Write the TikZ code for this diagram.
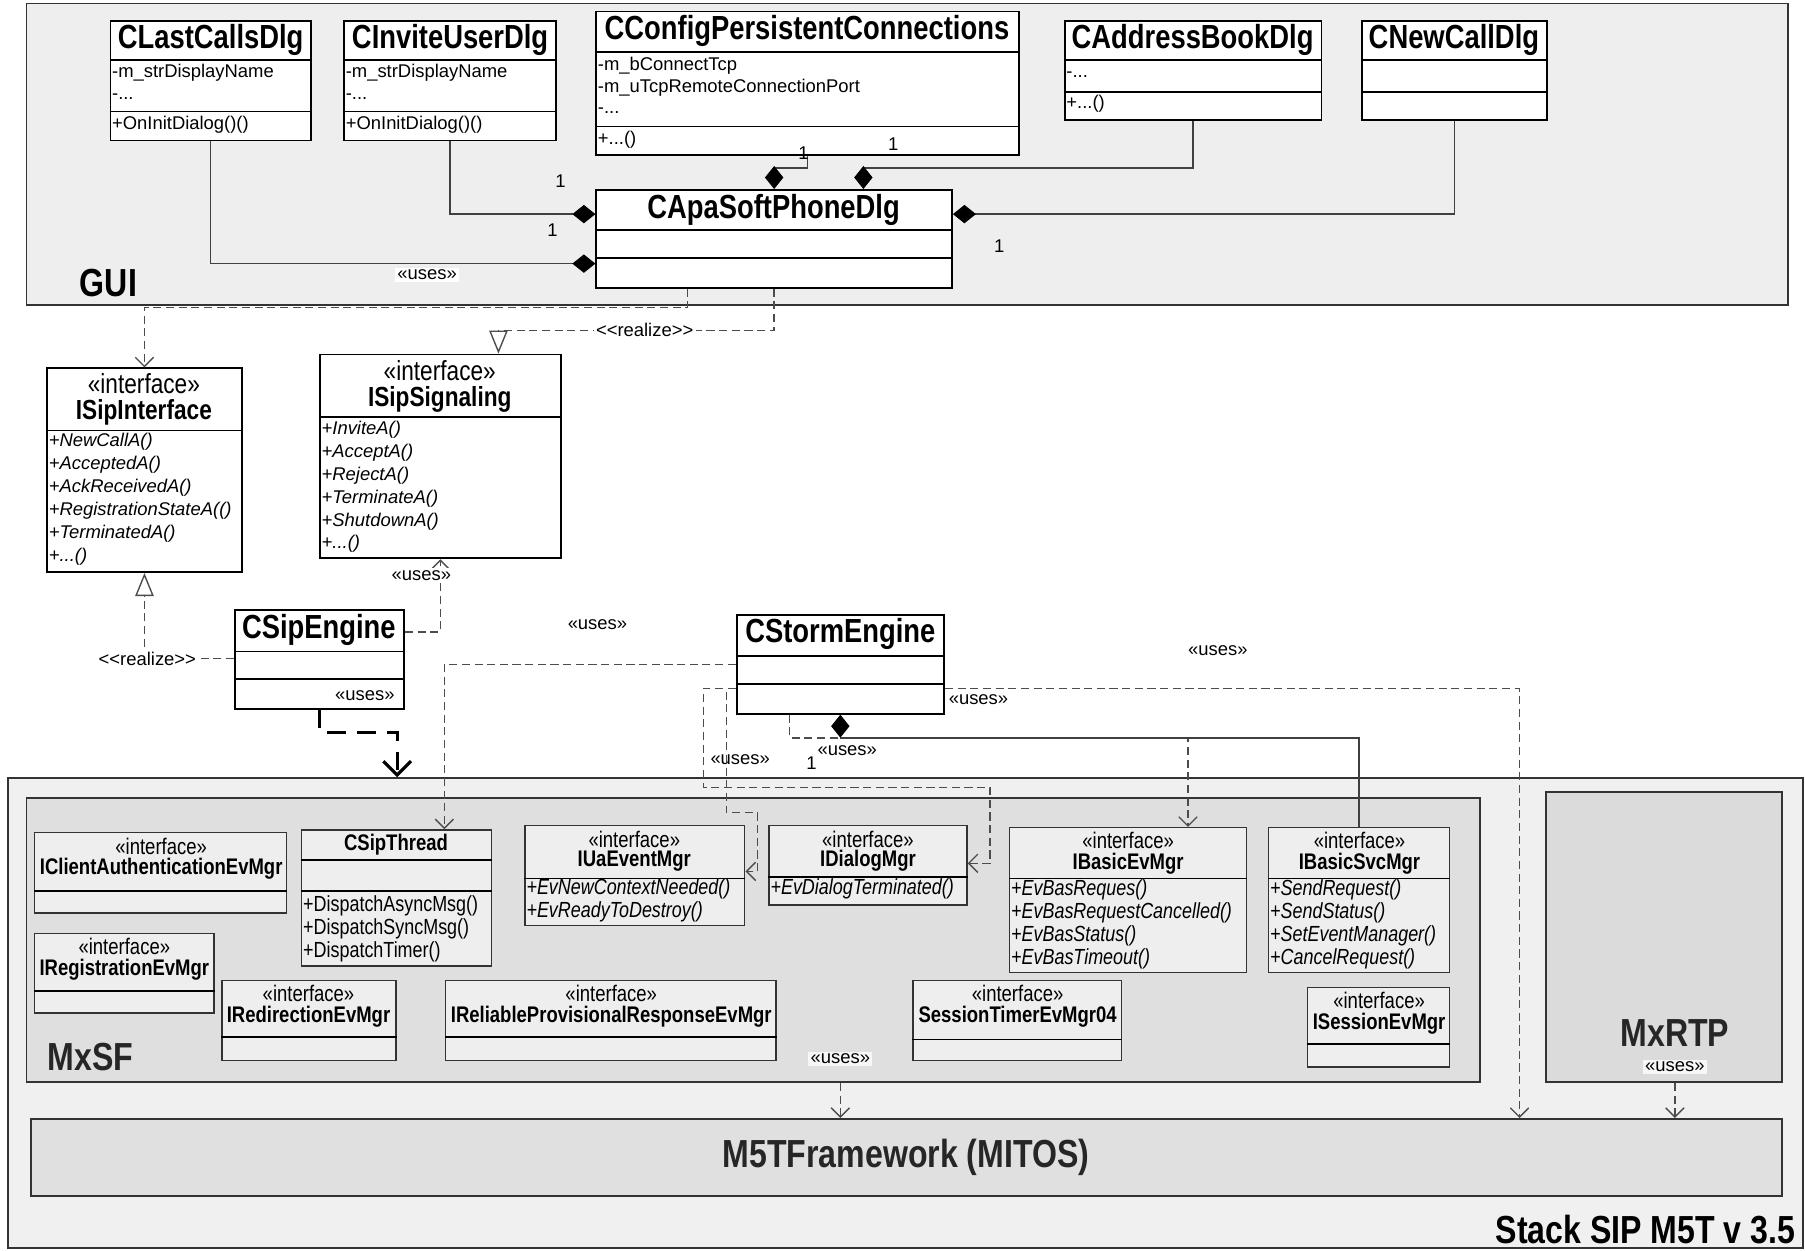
\documentclass[tikz,border=0pt]{standalone}
\usepackage{fontspec}
\setmainfont{Liberation Sans}
\newfontfamily\narrowfont{Liberation Sans}[FakeStretch=0.82]
\usetikzlibrary{arrows.meta,fit}
\pgfdeclarelayer{bg}
\pgfsetlayers{bg,main}

\tikzset{
  cls/.style={draw, line width=0.8pt, fill=white, inner sep=0pt},
  mcls/.style={draw=black!80, line width=0.6pt, fill=gray!13, inner sep=0pt},
  pkg/.style={draw=black!80, line width=0.8pt, inner sep=0pt},
  ttl/.style={font=\narrowfont\bfseries\fontsize{14.5}{16}\selectfont, inner sep=0pt},
  ster/.style={font=\narrowfont\fontsize{12}{14}\selectfont, inner sep=0pt},
  ittl/.style={font=\narrowfont\bfseries\fontsize{12}{14}\selectfont, inner sep=0pt},
  mster/.style={font=\narrowfont\fontsize{9.8}{11}\selectfont, inner sep=0pt},
  mttl/.style={font=\narrowfont\bfseries\fontsize{9.8}{11}\selectfont, inner sep=0pt},
  mem/.style={font=\fontsize{8}{10}\selectfont, anchor=west, inner sep=0pt},
  op/.style={mem, font=\fontsize{8}{10}\selectfont\itshape},
  mmem/.style={font=\narrowfont\fontsize{9.5}{11}\selectfont, anchor=west, inner sep=0pt},
  mop/.style={mmem, font=\narrowfont\fontsize{9.5}{11}\selectfont\itshape},
  pkgname/.style={font=\narrowfont\bfseries\fontsize{17}{19}\selectfont, inner sep=0pt, text=black!85},
  lbl/.style={font=\fontsize{8}{10}\selectfont, inner sep=1pt},
  assoc/.style={draw=black!75, line width=0.6pt},
  dep/.style={draw=black!70, line width=0.6pt, dash pattern=on 3.5pt off 2pt},
  compo/.style={-{Diamond[length=10pt,width=8pt,color=black]}},
  uses/.style={-{Straight Barb[length=4pt,width=8pt]}},
  realize/.style={-{Triangle[open,length=10pt,width=8pt,fill=white]}},
}
\newcommand\classrow[2]{\draw[line width=0.7pt] (#1.west |- 0,#2) -- (#1.east |- 0,#2);}

\begin{document}
\begin{tikzpicture}[x=0.5pt, y=-0.5pt]
        \useasboundingbox (0,0) rectangle (1568,1086);
        \begin{pgfonlayer}{bg}
                \node (p0) [pkg, fill=gray!13, fit={(23,3) (1553,265)}] {};
                \node (p1) [pkg, fill=gray!12, fit={(7,676) (1566,1084)}] {};
                \node (p2) [pkg, fill=gray!25, fit={(23,693) (1286,940)}] {};
                \node (p3) [pkg, fill=gray!28, fit={(1343,688) (1548,940)}] {};
                \node (p4) [pkg, fill=gray!24, fit={(27,972) (1548,1039)}] {};
        \end{pgfonlayer}
        \node (p0-n) [pkgname, anchor=west, text=black] at (69,246) {GUI};
        \node (p1-n) [pkgname, anchor=base east, text=black] at (1560,1080) {Stack SIP M5T v 3.5};
        \node (p2-n) [pkgname, anchor=west] at (41,918) {MxSF};
        \node (p3-n) [pkgname] at (1455,897) {MxRTP};
        \node (p4-n) [pkgname] at (787,1005) {M5TFramework (MITOS)};

        \node (v0) [cls, fit={(96,18) (270,122)}] {};
        \classrow{v0}{52} \classrow{v0}{97}
        \node (v0-t) [ttl] at (183,35) {CLastCallsDlg};
        \node (v0-a) [mem] at (97,63) {-m\_strDisplayName};
        \node (v0-b) [mem] at (97,84) {-...};
        \node (v0-c) [mem] at (97,108) {+OnInitDialog()()};

        \node (v1) [cls, fit={(299,18) (483,122)}] {};
        \classrow{v1}{52} \classrow{v1}{97}
        \node (v1-t) [ttl] at (391,35) {CInviteUserDlg};
        \node (v1-a) [mem] at (300,63) {-m\_strDisplayName};
        \node (v1-b) [mem] at (300,84) {-...};
        \node (v1-c) [mem] at (300,108) {+OnInitDialog()()};

        \node (v2) [cls, fit={(518,10) (885,135)}] {};
        \classrow{v2}{45} \classrow{v2}{110}
        \node (v2-t) [ttl] at (701,27) {CConfigPersistentConnections};
        \node (v2-a) [mem] at (519,57) {-m\_bConnectTcp};
        \node (v2-b) [mem] at (519,76) {-m\_uTcpRemoteConnectionPort};
        \node (v2-c) [mem] at (519,96) {-...};
        \node (v2-d) [mem] at (519,121) {+...()};

        \node (v3) [cls, fit={(925,18) (1148,104)}] {};
        \classrow{v3}{52} \classrow{v3}{80}
        \node (v3-t) [ttl] at (1036,35) {CAddressBookDlg};
        \node (v3-a) [mem] at (926,65) {-...};
        \node (v3-b) [mem] at (926,90) {+...()};

        \node (v4) [cls, fit={(1183,18) (1344,104)}] {};
        \classrow{v4}{52} \classrow{v4}{80}
        \node (v4-t) [ttl] at (1263,35) {CNewCallDlg};

        \node (v5) [cls, fit={(518,165) (827,250)}] {};
        \classrow{v5}{200} \classrow{v5}{224}
        \node (v5-t) [ttl] at (672,182) {CApaSoftPhoneDlg};

        \node (v6) [cls, fit={(41,320) (210,497)}] {};
        \classrow{v6}{374}
        \node (v6-s) [ster] at (125,333) {«interface»};
        \node (v6-t) [ittl] at (125,358) {ISipInterface};
        \node (v6-a) [op] at (42,384) {+NewCallA()};
        \node (v6-b) [op] at (42,404) {+AcceptedA()};
        \node (v6-c) [op] at (42,424) {+AckReceivedA()};
        \node (v6-d) [op] at (42,444) {+RegistrationStateA(()};
        \node (v6-e) [op] at (42,464) {+TerminatedA()};
        \node (v6-f) [op] at (42,484) {+...()};

        \node (v7) [cls, fit={(278,308) (487,485)}] {};
        \classrow{v7}{362}
        \node (v7-s) [ster] at (382,322) {«interface»};
        \node (v7-t) [ittl] at (382,347) {ISipSignaling};
        \node (v7-a) [op] at (279,373) {+InviteA()};
        \node (v7-b) [op] at (279,393) {+AcceptA()};
        \node (v7-c) [op] at (279,413) {+RejectA()};
        \node (v7-d) [op] at (279,433) {+TerminateA()};
        \node (v7-e) [op] at (279,453) {+ShutdownA()};
        \node (v7-f) [op] at (279,472) {+...()};

        \node (v8) [cls, fit={(204,530) (351,616)}] {};
        \classrow{v8}{566} \classrow{v8}{590}
        \node (v8-t) [ttl] at (277,547) {CSipEngine};

        \node (v9) [cls, fit={(640,534) (820,620)}] {};
        \classrow{v9}{570} \classrow{v9}{594}
        \node (v9-t) [ttl] at (730,551) {CStormEngine};

        \node (v10) [mcls, fit={(30,723) (249,793)}] {};
        \classrow{v10}{774}
        \node (v10-s) [mster] at (140,735) {«interface»};
        \node (v10-t) [mttl] at (140,755) {IClientAuthenticationEvMgr};

        \node (v11) [mcls, fit={(30,811) (186,880)}] {};
        \classrow{v11}{861}
        \node (v11-s) [mster] at (108,822) {«interface»};
        \node (v11-t) [mttl] at (108,842) {IRegistrationEvMgr};

        \node (v12) [mcls, fit={(262,721) (427,839)}] {};
        \classrow{v12}{747} \classrow{v12}{774}
        \node (v12-t) [mttl] at (344,734) {CSipThread};
        \node (v12-a) [mmem] at (263,787) {+DispatchAsyncMsg()};
        \node (v12-b) [mmem] at (263,807) {+DispatchSyncMsg()};
        \node (v12-c) [mmem] at (263,827) {+DispatchTimer()};

        \node (v13) [mcls, fit={(456,717) (647,804)}] {};
        \classrow{v13}{763}
        \node (v13-s) [mster] at (551,729) {«interface»};
        \node (v13-t) [mttl] at (551,748) {IUaEventMgr};
        \node (v13-a) [mop] at (457,772) {+EvNewContextNeeded()};
        \node (v13-b) [mop] at (457,792) {+EvReadyToDestroy()};

        \node (v14) [mcls, fit={(668,717) (840,786)}] {};
        \classrow{v14}{762}
        \node (v14-s) [mster] at (754,729) {«interface»};
        \node (v14-t) [mttl] at (754,748) {IDialogMgr};
        \node (v14-a) [mop] at (669,772) {+EvDialogTerminated()};

        \node (v15) [mcls, fit={(877,719) (1083,845)}] {};
        \classrow{v15}{763}
        \node (v15-s) [mster] at (980,730) {«interface»};
        \node (v15-t) [mttl] at (980,750) {IBasicEvMgr};
        \node (v15-a) [mop] at (878,773) {+EvBasReques()};
        \node (v15-b) [mop] at (878,793) {+EvBasRequestCancelled()};
        \node (v15-c) [mop] at (878,813) {+EvBasStatus()};
        \node (v15-d) [mop] at (878,833) {+EvBasTimeout()};

        \node (v16) [mcls, fit={(1102,719) (1259,845)}] {};
        \classrow{v16}{763}
        \node (v16-s) [mster] at (1181,730) {«interface»};
        \node (v16-t) [mttl] at (1181,750) {IBasicSvcMgr};
        \node (v16-a) [mop] at (1103,773) {+SendRequest()};
        \node (v16-b) [mop] at (1103,793) {+SendStatus()};
        \node (v16-c) [mop] at (1103,813) {+SetEventManager()};
        \node (v16-d) [mop] at (1103,833) {+CancelRequest()};

        \node (v17) [mcls, fit={(193,852) (344,921)}] {};
        \classrow{v17}{901}
        \node (v17-s) [mster] at (268,863) {«interface»};
        \node (v17-t) [mttl] at (268,883) {IRedirectionEvMgr};

        \node (v18) [mcls, fit={(387,852) (674,921)}] {};
        \classrow{v18}{901}
        \node (v18-s) [mster] at (531,863) {«interface»};
        \node (v18-t) [mttl] at (531,883) {IReliableProvisionalResponseEvMgr};

        \node (v19) [mcls, fit={(793,852) (974,921)}] {};
        \classrow{v19}{903}
        \node (v19-s) [mster] at (884,863) {«interface»};
        \node (v19-t) [mttl] at (884,883) {SessionTimerEvMgr04};

        \node (v20) [mcls, fit={(1136,858) (1259,927)}] {};
        \classrow{v20}{907}
        \node (v20-s) [mster] at (1198,869) {«interface»};
        \node (v20-t) [mttl] at (1198,889) {ISessionEvMgr};

        \draw[assoc, compo] (v0.south) |- (v5.west |- 0,229);
        \draw[assoc, compo] (v1.south) |- (v5.west |- 0,186);
        \draw[assoc, compo] (v2.south) -- (v2.south |- 0,146) -| (v5.north);
        \draw[assoc, compo] (v3.south) |- (750,146) -- (v5.north -| 750,0);
        \draw[assoc, compo] (v4.south) |- (v5.east |- 0,186);
        \draw[dep, uses] (v5.south -| 597,0) |- (v6.north |- 0,267) -- (v6.north);
        \draw[dep, realize] (v5.south) |- (433,287) -- (v7.north -| 433,0);
        \draw[dep, realize] (v8.west |- 0,572) -| (v6.south);
        \draw[dep, uses] (v8.east |- 0,549) -| (v7.south);
        \draw[line width=1.4pt, dash pattern=on 8pt off 5pt, -{Straight Barb[length=6pt,width=12pt]}] (v8.south) -- (v8.south |- 0,636) -| (p1.north -| 345,0);
        \draw[dep, uses] (v9.west |- 0,577) -| (v12.north -| 386,0);
        \draw[dep, uses] (v9.west |- 0,598) -| (611,684) -| (860,750) -- (v14.east |- 0,750);
        \draw[dep, uses] (v9.west |- 0,598) -| (631,706) -| (658,757) -- (v13.east |- 0,757);
        \draw[dep, uses] (v9.east |- 0,598) -| (p4.north -| 1320,0);
        \draw[dep, uses] (v9.south -| 686,0) |- (1032,641) -- (v15.north -| 1032,0);
        \draw[assoc, compo] (v16.north) |- (v9.south |- 0,641) -- (v9.south);
        \draw[dep, uses] (p2.south -| 730,0) -- (p4.north -| 730,0);
        \draw[dep, uses] (p3.south -| 1455,0) -- (p4.north -| 1455,0);

        \node (m0) [lbl] at (487,157) {1};
        \node (m1) [lbl] at (480,200) {1};
        \node (m2) [lbl] at (698,133) {1};
        \node (m3) [lbl] at (776,125) {1};
        \node (m4) [lbl] at (868,214) {1};
        \node (m5) [lbl] at (705,663) {1};
        \node (r0) [lbl, fill=white] at (560,287) {<\kern0pt<realize>\kern0pt>};
        \node (r1) [lbl, fill=white] at (128,572) {<\kern0pt<realize>\kern0pt>};
        \node (u0) [lbl, fill=white] at (371,239) {«uses»};
        \node (u1) [lbl, fill=white] at (366,500) {«uses»};
        \node (u2) [lbl] at (317,604) {«uses»};
        \node (u3) [lbl] at (519,543) {«uses»};
        \node (u4) [lbl] at (850,608) {«uses»};
        \node (u5) [lbl] at (1058,565) {«uses»};
        \node (u6) [lbl] at (736,652) {«uses»};
        \node (u7) [lbl] at (643,660) {«uses»};
        \node (u8) [lbl, fill=gray!6] at (730,920) {«uses»};
        \node (u9) [lbl, fill=gray!6] at (1455,927) {«uses»};
\end{tikzpicture}
\end{document}
